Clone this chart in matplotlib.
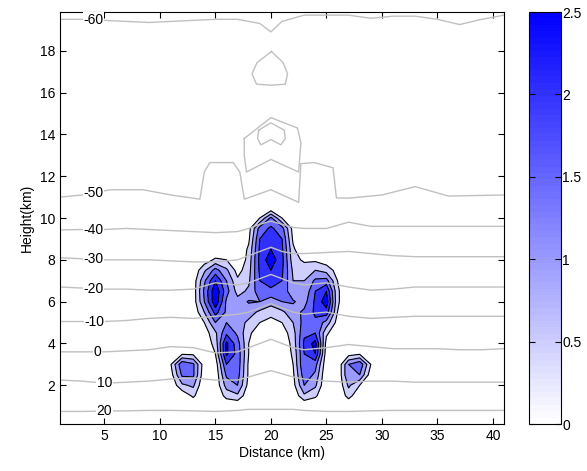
import numpy as np
import matplotlib.pyplot as plt
from matplotlib.colors import LinearSegmentedColormap, Normalize

plt.rcParams['font.family'] = ['Liberation Sans', 'DejaVu Sans']
plt.rcParams['font.size'] = 10

# hydrometeor field (rows top -> bottom)
grid_x = list(range(10, 31))
grid_y = [10.5, 10.0, 9.5, 9.0, 8.5, 8.0, 7.5, 7.0, 6.5, 6.0, 5.5, 5.0, 4.5, 4.0, 3.5, 3.0, 2.5, 2.0, 1.5, 1.0]
field = [
    # 10  11   12   13   14   15   16   17   18   19   20   21   22   23   24   25   26   27   28   29   30
    [0,   0,   0,   0,   0,   0,   0,   0,   0,   0,   0,   0,   0,   0,   0,   0,   0,   0,   0,   0,   0],
    [0,   0,   0,   0,   0,   0,   0,   0,   0,   0.5, 1.6, 0.5, 0,   0,   0,   0,   0,   0,   0,   0,   0],
    [0,   0,   0,   0,   0,   0,   0,   0,   0.3, 1.7, 2.1, 1.7, 0.3, 0,   0,   0,   0,   0,   0,   0,   0],
    [0,   0,   0,   0,   0,   0,   0,   0,   0.4, 2.0, 2.3, 2.0, 0.4, 0,   0,   0,   0,   0,   0,   0,   0],
    [0,   0,   0,   0,   0,   0,   0.1, 0,   0.6, 2.1, 2.5, 2.1, 0.6, 0,   0,   0,   0,   0,   0,   0,   0],
    [0,   0,   0,   0,   0.2, 0.6, 0.5, 0,   0.7, 2.15, 2.8, 2.15, 0.7, 0.4, 0.4, 0.2, 0,   0,   0,   0,   0],
    [0,   0,   0,   0.1, 0.9, 1.7, 1.1, 0.3, 0.8, 2.1, 2.5, 2.1, 0.9, 0.8, 1.0, 0.8, 0.3, 0,   0,   0,   0],
    [0,   0,   0,   0.2, 1.4, 2.5, 1.5, 0.6, 0.9, 2.0, 2.2, 2.0, 1.0, 1.0, 1.6, 1.7, 0.5, 0,   0,   0,   0],
    [0,   0,   0,   0.2, 1.6, 2.9, 1.7, 0.8, 1.1, 1.8, 1.9, 1.8, 1.2, 1.1, 2.0, 2.5, 0.6, 0,   0,   0,   0],
    [0,   0,   0,   0.2, 1.5, 2.9, 1.4, 1.2, 1.55, 1.5, 1.2, 1.5, 1.55, 1.3, 2.1, 2.8, 0.6, 0,   0,   0,   0],
    [0,   0,   0,   0.1, 1.0, 2.2, 1.4, 1.3, 1.2, 0.9, 0.7, 0.9, 1.3, 1.6, 2.1, 2.3, 0.5, 0,   0,   0,   0],
    [0,   0,   0,   0,   0.5, 1.5, 1.5, 1.2, 0.9, 0.5, 0.3, 0.5, 1.0, 1.7, 1.9, 1.3, 0.3, 0,   0,   0,   0],
    [0,   0,   0,   0,   0.2, 0.9, 1.9, 1.4, 0.6, 0.2, 0,   0.2, 0.8, 1.9, 2.0, 0.6, 0.1, 0,   0,   0,   0],
    [0,   0,   0,   0,   0.1, 0.7, 2.6, 1.7, 0.5, 0,   0,   0,   0.7, 2.1, 2.7, 0.3, 0,   0,   0,   0,   0],
    [0,   0.3, 0.45, 0.4, 0.1, 0.5, 2.6, 1.8, 0.5, 0,   0,   0,   0.6, 2.0, 2.5, 0.2, 0,   0.3, 0.45, 0.3, 0],
    [0,   0.5, 1.9, 1.6, 0.2, 0.2, 2.0, 1.8, 0.4, 0,   0,   0,   0.5, 2.0, 1.7, 0.1, 0,   1.5, 1.9, 0.5, 0],
    [0,   0.3, 1.6, 1.6, 0.1, 0.1, 1.6, 1.7, 0.4, 0,   0,   0,   0.4, 1.8, 1.4, 0,   0,   1.5, 1.5, 0.2, 0],
    [0,   0.1, 0.9, 1.1, 0,   0.1, 1.2, 1.5, 0.3, 0,   0,   0,   0.3, 1.5, 1.1, 0,   0,   1.1, 0.5, 0,   0],
    [0,   0,   0.1, 0.6, 0,   0,   0.7, 0.9, 0.1, 0,   0,   0,   0.1, 0.9, 0.6, 0,   0,   0.7, 0.1, 0,   0],
    [0,   0,   0,   0,   0,   0,   0,   0,   0,   0,   0,   0,   0,   0,   0,   0,   0,   0,   0,   0,   0],
]
fill_levels = [0.5, 1.0, 1.5, 2.0, 2.5]

# isotherms (height in km along distance)
iso_x = [1, 3, 5, 7, 9, 11, 13, 15, 17, 18, 19, 20, 21, 22, 23, 25, 27, 29, 31, 33, 35, 37, 39, 41]
t_m40 = [9.43, 9.45, 9.45, 9.5, 9.45, 9.4, 9.35, 9.3, 9.35, 9.5, 9.7, 9.85, 9.7, 9.55, 9.5, 9.5, 9.8, 9.6, 9.6, 9.6, 9.6, 9.6, 9.6, 9.6]
t_m30 = [8.1, 8.05, 8.0, 8.0, 8.0, 7.95, 7.9, 7.9, 8.0, 8.2, 8.4, 8.6, 8.4, 8.3, 8.3, 8.35, 8.4, 8.3, 8.2, 8.15, 8.15, 8.15, 8.15, 8.15]
t_m20 = [6.7, 6.65, 6.6, 6.6, 6.55, 6.55, 6.6, 6.9, 6.8, 6.9, 7.1, 7.3, 7.1, 6.9, 6.8, 6.9, 6.7, 6.55, 6.6, 6.7, 6.7, 6.7, 6.7, 6.7]
t_m10 = [5.05, 5.05, 5.05, 5.1, 5.2, 5.25, 5.2, 5.3, 5.4, 5.5, 5.7, 5.9, 5.7, 5.5, 5.4, 5.5, 5.3, 5.2, 5.25, 5.3, 5.3, 5.3, 5.3, 5.3]
t_0 = [3.6, 3.6, 3.6, 3.65, 3.7, 3.85, 3.8, 3.55, 3.6, 3.8, 4.0, 4.2, 4.0, 3.8, 3.7, 3.8, 3.95, 3.85, 3.75, 3.75, 3.75, 3.7, 3.7, 3.75]
t_10 = [2.25, 2.2, 2.1, 2.15, 2.2, 2.3, 2.35, 2.25, 2.25, 2.4, 2.55, 2.7, 2.55, 2.4, 2.3, 2.2, 2.15, 2.2, 2.2, 2.15, 2.15, 2.15, 2.15, 2.15]
t_20 = [0.75, 0.75, 0.77, 0.78, 0.8, 0.8, 0.78, 0.75, 0.8, 0.85, 0.85, 0.85, 0.85, 0.85, 0.8, 0.75, 0.75, 0.78, 0.8, 0.8, 0.8, 0.8, 0.8, 0.8]

m60_x = [1, 3, 5, 7, 9, 11, 13, 15, 17, 19, 20, 21, 23, 25, 27, 29, 31, 33, 35, 37, 39, 41]
t_m60 = [19.5, 19.5, 19.45, 19.4, 19.35, 19.4, 19.45, 19.5, 19.5, 19.3, 18.9, 19.4, 19.7, 19.7, 19.7, 19.55, 19.65, 19.65, 19.5, 19.25, 19.5, 19.7]
m50_x = [1, 3, 5.5, 8.5, 11, 13.6, 14.0, 14.5, 16.6, 17.2, 17.6, 20, 22.5, 22.7, 23.9, 25.6, 25.9, 27, 30, 33, 36, 41]
t_m50 = [11.0, 11.1, 11.35, 11.35, 11.1, 10.9, 12.2, 12.65, 12.65, 12.2, 10.9, 11.35, 10.75, 12.6, 12.65, 12.4, 10.96, 10.95, 11.1, 11.5, 11.05, 11.1]

# closed isotherms above the storm top
ring1_x = [20.05, 21.1, 21.5, 21.3, 20.0, 18.7, 18.3, 18.75, 20.05]
ring1_y = [17.96, 17.43, 16.9, 16.4, 16.35, 16.4, 16.9, 17.43, 17.96]
ring2_x = [17.6, 20.0, 22.4, 22.7, 22.5, 20.0, 17.8, 17.6, 17.6]
ring2_y = [13.8, 14.8, 14.3, 13.6, 12.2, 12.8, 12.2, 13.0, 13.8]
ring3_x = [18.9, 20.0, 21.2, 21.3, 20.9, 20.0, 19.1, 18.8, 18.9]
ring3_y = [14.2, 14.55, 14.2, 13.8, 13.5, 13.75, 13.5, 13.8, 14.2]

iso_labels = ['-60', '-50', '-40', '-30', '-20', '-10', '0', '10', '20']
label_x = [4.0, 4.0, 4.0, 4.0, 4.0, 4.1, 4.4, 5.0, 5.0]

cmap = LinearSegmentedColormap.from_list('wb', [(1, 1, 1), (0, 0, 1)], N=64)
norm = Normalize(0, 2.5)

fig = plt.figure(figsize=(5.87, 4.71), dpi=100)
ax = fig.add_axes([60 / 587, 47 / 471, 444 / 587, 412 / 471])
cax = fig.add_axes([529 / 587, 47 / 471, 32 / 587, 412 / 471])

Z = np.array(field)[::-1]
Y = np.array(grid_y)[::-1]
band_colors = [cmap(norm(v)) for v in fill_levels]
ax.contourf(grid_x, Y, Z, levels=fill_levels + [10], colors=band_colors)
ax.contour(grid_x, Y, Z, levels=fill_levels, colors='k', linewidths=0.8)

gray = '#c0c0c0'
lines_y = [t_m40, t_m30, t_m20, t_m10, t_0, t_10, t_20]
ax.plot(m60_x, t_m60, color=gray, lw=1)
ax.plot(m50_x, t_m50, color=gray, lw=1)
for ys in lines_y:
    ax.plot(iso_x, ys, color=gray, lw=1)
for rx, ry in [(ring1_x, ring1_y), (ring2_x, ring2_y), (ring3_x, ring3_y)]:
    ax.plot(rx, ry, color=gray, lw=1)

all_lines = [(m60_x, t_m60), (m50_x, t_m50)] + [(iso_x, ys) for ys in lines_y]
for lab, lx, (xs, ys) in zip(iso_labels, label_x, all_lines):
    ly = np.interp(lx, xs, ys)
    ax.text(lx, ly, lab, ha='center', va='center', fontsize=10,
            bbox=dict(facecolor='white', edgecolor='none', pad=0.3))

ax.set_xlim(1, 41)
ax.set_ylim(0.15, 19.85)
ax.set_xticks([5, 10, 15, 20, 25, 30, 35, 40])
ax.set_yticks([2, 4, 6, 8, 10, 12, 14, 16, 18])
ax.tick_params(direction='in', top=True, right=True, length=4)
ax.set_xlabel('Distance (km)', labelpad=2)
ax.set_ylabel('Height(km)', labelpad=4)

cb = fig.colorbar(plt.cm.ScalarMappable(norm=norm, cmap=cmap), cax=cax)
cb.set_ticks([0, 0.5, 1, 1.5, 2, 2.5])
cb.set_ticklabels(['0', '0.5', '1', '1.5', '2', '2.5'])
cax.tick_params(direction='in', left=True, right=True, length=4, pad=1)

fig.savefig('out.png', dpi=100)
